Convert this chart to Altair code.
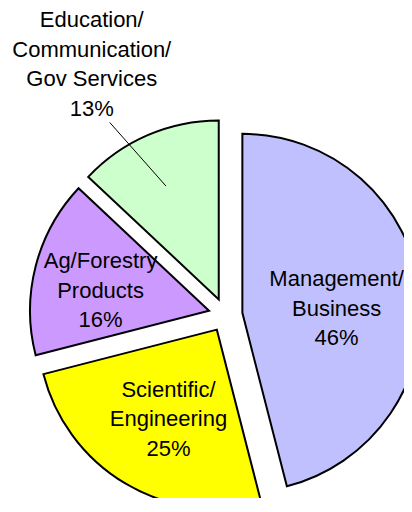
import altair as alt
import pandas as pd

categories = [
    "Management/\nBusiness",
    "Scientific/\nEngineering",
    "Ag/Forestry\nProducts",
    "Education/\nCommunication/\nGov Services",
]
values = [46, 25, 16, 13]
colors = ["#C0C0FF", "#FFFF00", "#CC99FF", "#CCFFCC"]

df = pd.DataFrame({"category": categories, "value": values, "order": list(range(len(values)))})

CX, CY = 217.5, 307.0   # pie centre (chart coords)
EXPLODE = 17            # explosion distance
R = 179                 # pie radius
LH = 29.5               # label line height

base = (
    alt.Chart(df)
    .transform_joinaggregate(total="sum(value)")
    .transform_window(cum="sum(value)", sort=[alt.SortField("order")])
    .transform_calculate(
        t1="datum.cum / datum.total * 2 * PI",
        t0="(datum.cum - datum.value) / datum.total * 2 * PI",
    )
    .transform_calculate(mid="(datum.t0 + datum.t1) / 2")
    .transform_calculate(
        px=f"{CX} + {EXPLODE} * sin(datum.mid)",
        py=f"{CY} - {EXPLODE} * cos(datum.mid)",
        outside="datum.value < 15",
    )
    .transform_calculate(
        la="datum.outside ? datum.mid - 0.082 : datum.mid",
        lr="datum.outside ? 284 : (datum.value >= 20 ? 112 : 129)",
        ldy="datum.outside ? 0 : 8",
        lbl="datum.category + '\\n' + datum.value + '%'",
    )
    .transform_calculate(
        nl="length(split(datum.lbl, '\\n'))",
        lx=f"{CX} + datum.lr * sin(datum.la)",
        lyc=f"{CY} - datum.lr * cos(datum.la) + datum.ldy",
    )
    .transform_calculate(ly=f"datum.lyc - (datum.nl - 1) / 2 * {LH}")
)

arcs = base.mark_arc(radius=R, stroke="black", strokeWidth=2, strokeJoin="miter").encode(
    x=alt.X("px:Q", scale=None),
    y=alt.Y("py:Q", scale=None),
    theta=alt.Theta("t0:Q", scale=None),
    theta2=alt.Theta2("t1:Q"),
    color=alt.Color("category:N", scale=alt.Scale(domain=categories, range=colors), legend=None),
)

leader = (
    base.transform_filter("datum.outside")
    .transform_calculate(
        x1="datum.lx + 18",
        y1="datum.lyc + 58",
        x2=f"{CX} + 142 * sin(datum.mid - 0.024)",
        y2=f"{CY} - 142 * cos(datum.mid - 0.024)",
    )
    .mark_rule(color="black", strokeWidth=1)
    .encode(
        x=alt.X("x1:Q", scale=None),
        y=alt.Y("y1:Q", scale=None),
        x2="x2:Q",
        y2="y2:Q",
    )
)

labels = base.mark_text(
    lineBreak="\n",
    font="Liberation Sans",
    fontSize=22,
    lineHeight=LH,
    align="center",
    baseline="middle",
    color="black",
).encode(
    x=alt.X("lx:Q", scale=None),
    y=alt.Y("ly:Q", scale=None),
    text="lbl:N",
)

chart = (
    alt.layer(arcs, leader, labels)
    .properties(width=396, height=490, padding=0, autosize=alt.AutoSizeParams(type="none"))
    .configure_view(stroke=None)
)

chart.save("out.html", embed_options={"renderer": "svg", "actions": False})
